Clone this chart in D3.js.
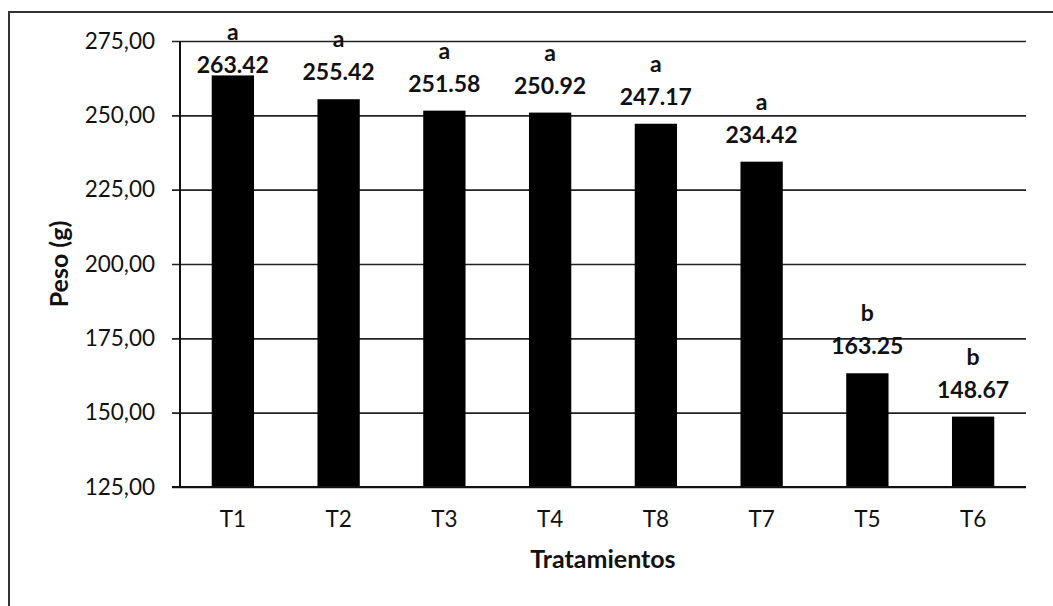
<!DOCTYPE html>
<html>
<head>
<meta charset="utf-8">
<script src="https://cdn.jsdelivr.net/npm/d3@7"></script>
<style>
    body { margin: 0; background: #fff; }
    text { font-family: Lato, "Open Sans", sans-serif; fill: #111; }
</style>
</head>
<body>
<div id="chart"></div>
<script>
// treatments in the order they are drawn
let tratamientos = ["T1", "T2", "T3", "T4", "T8", "T7", "T5", "T6"];
let pesos = [263.42, 255.42, 251.58, 250.92, 247.17, 234.42, 163.25, 148.67];
let letras = ["a", "a", "a", "a", "a", "a", "b", "b"];
let yTicks = [125, 150, 175, 200, 225, 250, 275];

let W = 1053, H = 606;
let margin = {top: 41, right: 27, bottom: 119, left: 180};

let svg = d3.select("#chart").append("svg")
    .attr("width", W)
    .attr("height", H);

// outer chart border (only top and left edges are in the picture)
svg.append("path")
    .attr("d", "M9,606 L9,12 L1053,12")
    .attr("fill", "none")
    .attr("stroke", "#333")
    .attr("stroke-width", 2);

let x = d3.scaleBand()
    .domain(tratamientos)
    .range([margin.left, W - margin.right])
    .paddingInner(0.6)
    .paddingOuter(0.3);

let y = d3.scaleLinear()
    .domain([125, 275])
    .range([H - margin.bottom, margin.top]);

// gridlines + left ticks
let yAxis = d3.axisLeft(y)
    .tickValues(yTicks)
    .tickSize(-(W - margin.left - margin.right))
    .tickPadding(25)
    .tickFormat(d => d3.format(".2f")(d).replace(".", ","));

svg.append("g")
    .attr("transform", "translate(" + margin.left + ",0)")
    .call(yAxis)
    .call(function(g) {
        g.select(".domain").remove();
        g.selectAll("line")
            .attr("x1", -8)
            .attr("stroke", "#222")
            .attr("stroke-width", 1.6);
        g.selectAll("text")
            .style("font-size", "22.5px")
            .attr("fill", "#111");
    });

// y axis line
svg.append("line")
    .attr("x1", margin.left).attr("x2", margin.left)
    .attr("y1", y(275)).attr("y2", y(125))
    .attr("stroke", "#111")
    .attr("stroke-width", 2);

svg.selectAll(".bar")
    .data(pesos)
    .enter().append("rect")
    .attr("class", "bar")
    .attr("x", (d, i) => x(tratamientos[i]))
    .attr("y", d => y(d))
    .attr("width", x.bandwidth())
    .attr("height", d => y(125) - y(d))
    .attr("fill", "#000");

// x axis line drawn over bar bottoms
svg.append("line")
    .attr("x1", margin.left - 8).attr("x2", W - margin.right)
    .attr("y1", y(125)).attr("y2", y(125))
    .attr("stroke", "#111")
    .attr("stroke-width", 2);

let xAxis = d3.axisBottom(x).tickSize(0).tickPadding(24);
svg.append("g")
    .attr("transform", "translate(0," + y(125) + ")")
    .call(xAxis)
    .call(function(g) {
        g.select(".domain").remove();
        g.selectAll("text")
            .style("font-size", "22.5px")
            .attr("fill", "#111");
    });

// data labels: letter on top, value below; clamped near the top like excel does
let labelBase = d => Math.max(y(d) - 19, 73);

svg.selectAll(".val")
    .data(pesos)
    .enter().append("text")
    .attr("class", "val")
    .attr("x", (d, i) => x(tratamientos[i]) + x.bandwidth() / 2)
    .attr("y", d => labelBase(d))
    .attr("text-anchor", "middle")
    .style("font-size", "23px")
    .style("font-weight", "bold")
    .text(d => d.toFixed(2));

svg.selectAll(".letra")
    .data(pesos)
    .enter().append("text")
    .attr("class", "letra")
    .attr("x", (d, i) => x(tratamientos[i]) + x.bandwidth() / 2)
    .attr("y", d => labelBase(d) - 33)
    .attr("text-anchor", "middle")
    .style("font-size", "23px")
    .style("font-weight", "bold")
    .text((d, i) => letras[i]);

svg.append("text")
    .attr("transform", "translate(68," + (margin.top + (H - margin.bottom - margin.top) / 2) + ") rotate(-90)")
    .attr("text-anchor", "middle")
    .style("font-size", "25px")
    .style("font-weight", "bold")
    .text("Peso (g)");

svg.append("text")
    .attr("x", margin.left + (W - margin.right - margin.left) / 2)
    .attr("y", 568)
    .attr("text-anchor", "middle")
    .style("font-size", "25px")
    .style("font-weight", "bold")
    .text("Tratamientos");
</script>
</body>
</html>
